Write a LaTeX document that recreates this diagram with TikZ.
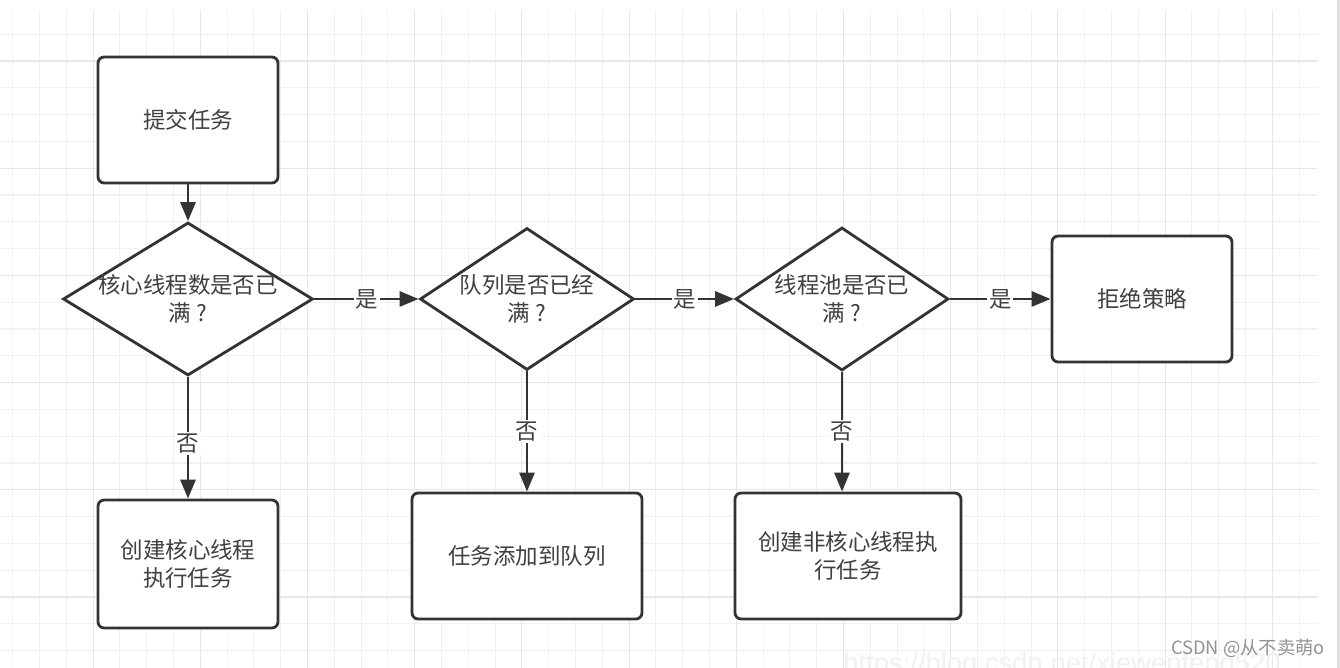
\documentclass[tikz,border=0pt]{standalone}
\usepackage{fontspec}
\newfontfamily\cjk{Noto Sans CJK SC}
\newfontfamily\wmfont{Liberation Sans}
\usepackage{tikz}
\usetikzlibrary{
	arrows.meta,
	positioning,
	shapes.geometric
}
\definecolor{edge}{HTML}{333333}
\definecolor{ink}{HTML}{404040}
\definecolor{gminor}{HTML}{F1F1F1}
\definecolor{gmajor}{HTML}{E7E7E7}

\begin{document}
\begin{tikzpicture}[
			x=0.02cm, y=-0.02cm,
			font=\cjk\fontsize{12.8pt}{16pt}\selectfont,
			box/.style={draw=edge, line width=1.6pt, rounded corners=3.5pt, fill=white, minimum width=3.6cm, minimum height=2.52cm, align=center, text=ink},
			dia/.style={draw=edge, line width=1.6pt, diamond, fill=white, inner sep=0pt},
			>={Triangle[length=0.38cm, width=0.3cm]},
			fl/.style={->, draw=edge, line width=1.6pt},
			lbl/.style={fill=white, text=ink, inner sep=1pt}
		]

		\useasboundingbox[fill=white] (0,0) rectangle (1340,668);
		\foreach \k in {0,...,48}
			\draw[gminor, line width=0.6pt] ({12.7+26.8*\k},10) -- ({12.7+26.8*\k},668);
		\foreach \k in {1,...,24}
			\draw[gminor, line width=0.6pt] (0,{7.4+26.8*\k}) -- (1318,{7.4+26.8*\k});
		\foreach \k in {3,7,...,47}
			\draw[gmajor, line width=0.6pt] ({12.7+26.8*\k},10) -- ({12.7+26.8*\k},668);
		\foreach \k in {2,6,...,22}
			\draw[gmajor, line width=0.6pt] (0,{7.4+26.8*\k}) -- (1318,{7.4+26.8*\k});
		\draw[gray!25, line width=1.2pt] (1338.5,0) -- (1338.5,668);

		\node[box] (sub) at (188,120) {提交任务};
		\node[dia, minimum width=5cm, minimum height=3.06cm, label={[text=ink, align=center]center:核心线程数是否已\\满 ?}] (core) at (188,299) {};
		\node[dia, minimum width=4.28cm, minimum height=2.84cm, label={[text=ink, align=center]center:队列是否已经\\满 ?}] (queue) at (527,299) {};
		\node[dia, minimum width=4.26cm, minimum height=2.86cm, label={[text=ink, align=center]center:线程池是否已\\满 ?}] (pool) at (842,299) {};
		\node[box] (reject) at (1142,299) {拒绝策略};
		\node[box, minimum height=2.56cm] (newcore) at (188,564) {创建核心线程\\执行任务};
		\node[box, minimum width=4.6cm] (addq) at (527,556) {任务添加到队列};
		\node[box, minimum width=4.52cm] (newext) at (848,556) {创建非核心线程执\\行任务};

		\draw[fl] (sub) -- (core);
		\draw[fl] (core) -- node[lbl] {是} (queue);
		\draw[fl] (queue) -- node[lbl] {是} (pool);
		\draw[fl] (pool) -- node[lbl] {是} (reject);
		\draw[fl] (core) -- node[lbl, pos=0.55] {否} (newcore);
		\draw[fl] (queue) -- node[lbl] {否} (addq);
		\draw[fl] (pool.south) -- node[lbl] {否} (pool.south |- newext.north);

		\node[anchor=base west, inner sep=0pt, font=\wmfont\fontsize{15.6pt}{16pt}\selectfont, text=gray!11] (url) at (843,673) {https://blog.csdn.net/xiewenfeng520};
		\node[anchor=base east, inner sep=0pt, font=\cjk\fontsize{10.4pt}{12pt}\selectfont, text=gray!85] (mark) at (1325,655) {CSDN @从不卖萌o};
	\end{tikzpicture}
\end{document}
